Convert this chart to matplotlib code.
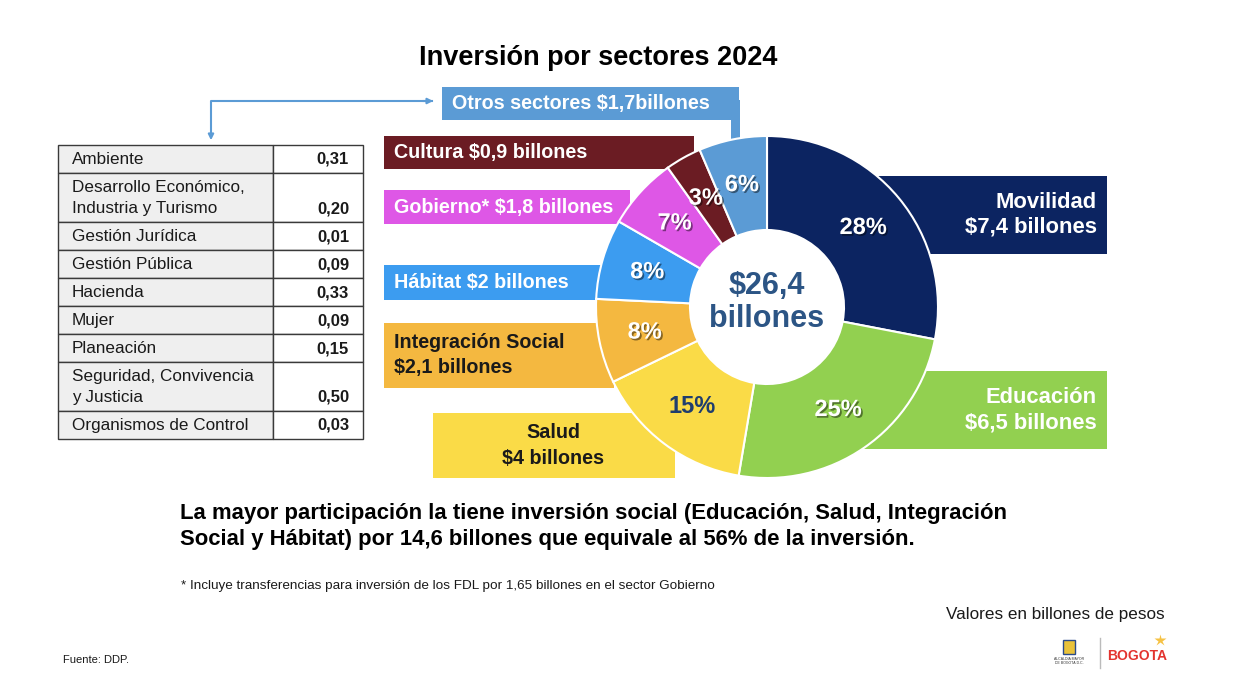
import matplotlib
matplotlib.use("Agg")
import matplotlib.pyplot as plt
import matplotlib.patheffects as pe
from matplotlib.patches import Rectangle, FancyArrowPatch

plt.rcParams["font.family"] = ["Liberation Sans", "DejaVu Sans"]

# ---- data ------------------------------------------------------------------
sectores = ["Movilidad", "Educación", "Salud", "Integración Social", "Hábitat",
            "Gobierno*", "Cultura", "Otros sectores"]
valores = [7.4, 6.5, 4.0, 2.1, 2.0, 1.8, 0.9, 1.7]   # billones de pesos
etiquetas = [["Movilidad", "$7,4 billones"],
             ["Educación", "$6,5 billones"],
             ["Salud", "$4 billones"],
             ["Integración Social", "$2,1 billones"],
             ["Hábitat $2 billones"],
             ["Gobierno* $1,8 billones"],
             ["Cultura $0,9 billones"],
             ["Otros sectores $1,7billones"]]
total_txt = ["$26,4", "billones"]

otros_nombres = ["Ambiente", "Desarrollo Económico,\nIndustria y Turismo",
                 "Gestión Jurídica", "Gestión Pública", "Hacienda", "Mujer",
                 "Planeación", "Seguridad, Convivencia\ny Justicia",
                 "Organismos de Control"]
otros_valores = [0.31, 0.20, 0.01, 0.09, 0.33, 0.09, 0.15, 0.50, 0.03]

# ---- style -----------------------------------------------------------------
colores = ["#0c2461", "#92d050", "#fadb47", "#f4b840", "#3c9cf0",
           "#de57e6", "#6b1c23", "#5b9bd5"]
txt_col = ["white", "white", "#1a1a1a", "#1a1a1a", "white", "white", "white", "white"]
# label boxes: x, y, w, h, text anchor x, alignment, font size
cajas = [(878, 176, 229, 78, 1097, "right", 15.8),
         (862, 371, 245, 78, 1097, "right", 15.8),
         (433, 413, 242, 65, 553, "center", 14.2),
         (384, 323, 230, 65, 394, "left", 14.2),
         (384, 265, 226, 35, 394, "left", 14.2),
         (384, 190, 246, 34, 394, "left", 14.2),
         (384, 136, 310, 33, 394, "left", 14.2),
         (442, 87, 297, 33, 452, "left", 14.2)]
NAVY = "#1f3d6e"
W, H = 1236, 698
CX, CY, R, R_IN = 767, 307, 171, 77

fig = plt.figure(figsize=(W / 100, H / 100), dpi=100)
ax = fig.add_axes([0, 0, 1, 1])

# ---- label boxes (behind the donut) ---------------------------------------
for (x, y, w, h, tx, al, fs), col, tc, lines in zip(cajas, colores, txt_col, etiquetas):
    ax.add_patch(Rectangle((x, y), w, h, fc=col, ec="none", zorder=1))
    n = len(lines)
    for i, line in enumerate(lines):
        yy = y + h / 2 + (i - (n - 1) / 2) * 25
        ax.text(tx, yy, line, ha=al, va="center", fontsize=fs,
                weight="bold", color=tc, zorder=2)
# connector strip from "Otros" box to its slice
ax.add_patch(Rectangle((731, 100), 9, 100, fc=colores[7], ec="none", zorder=1))

# ---- donut -----------------------------------------------------------------
wedges, _, autotexts = ax.pie(
    valores, colors=colores, radius=R, center=(CX, CY), startangle=-90,
    counterclock=True, autopct="%.0f%%", pctdistance=0.73, frame=True,
    wedgeprops=dict(width=R - R_IN, edgecolor="white", linewidth=1.5, zorder=3),
    textprops=dict(fontsize=17, weight="bold", color="white", zorder=5))
shadow = [pe.SimplePatchShadow(offset=(1.2, -1.2), shadow_rgbFace="black", alpha=0.45),
          pe.Normal()]
for i, t in enumerate(autotexts):
    if i == 2:
        t.set_color(NAVY)
    else:
        t.set_path_effects(shadow)

ax.text(CX, CY - 21, total_txt[0], ha="center", va="center", fontsize=22,
        weight="bold", color="#2c5585", zorder=6)
ax.text(CX, CY + 12, total_txt[1], ha="center", va="center", fontsize=22,
        weight="bold", color="#2c5585", zorder=6)

# ---- "otros sectores" table ----------------------------------------------
TX0, TX1, TX2 = 58, 273, 363
y = 145
for nombre, v in zip(otros_nombres, otros_valores):
    lines = nombre.split("\n")
    h = 28 if len(lines) == 1 else 49
    ax.add_patch(Rectangle((TX0, y), TX1 - TX0, h, fc="#efefef", ec="#3a3a3a", lw=1, zorder=2))
    ax.add_patch(Rectangle((TX1, y), TX2 - TX1, h, fc="white", ec="#3a3a3a", lw=1, zorder=2))
    for i, line in enumerate(lines):
        ax.text(72, y + h - 13.5 - (len(lines) - 1 - i) * 21, line, ha="left",
                va="center", fontsize=12.3, color="#1a1a1a", zorder=3)
    ax.text(349, y + h - 13.5, f"{v:.2f}".replace(".", ","), ha="right", va="center",
            fontsize=12, weight="bold", color="#1a1a1a", zorder=3)
    y += h

# arrow from "Otros sectores" box to the table
ax.plot([432, 211, 211], [101, 101, 136], color="#5b9bd5", lw=1.5, zorder=2)
ax.add_patch(FancyArrowPatch((211, 130), (211, 143), arrowstyle="-|>",
             mutation_scale=8, color="#5b9bd5", lw=1.5, zorder=2))
ax.add_patch(FancyArrowPatch((420, 101), (436, 101), arrowstyle="-|>",
             mutation_scale=8, color="#5b9bd5", lw=1.5, zorder=2))

# ---- titles and notes ------------------------------------------------------
ax.text(598, 58, "Inversión por sectores 2024", ha="center", va="center",
        fontsize=19.5, weight="bold", color="black")
ax.text(180, 513, "La mayor participación la tiene inversión social (Educación, Salud, Integración",
        ha="left", va="center", fontsize=15.9, weight="bold", color="black")
ax.text(180, 539, "Social y Hábitat) por 14,6 billones que equivale al 56% de la inversión.",
        ha="left", va="center", fontsize=15.9, weight="bold", color="black")
ax.text(181, 586, "* Incluye transferencias para inversión de los FDL por 1,65 billones en el sector Gobierno",
        ha="left", va="center", fontsize=9.7, color="#1a1a1a")
ax.text(1165, 614, "Valores en billones de pesos", ha="right", va="center",
        fontsize=12.3, color="#1a1a1a")
ax.text(63, 660, "Fuente: DDP.", ha="left", va="center", fontsize=8, color="#1a1a1a")

# ---- logos (simplified) ----------------------------------------------------
ax.add_patch(Rectangle((1063, 640), 12, 14, fc="#e9c23a", ec="#2a4a8a", lw=1, zorder=2))
ax.text(1069, 661, "ALCALDÍA MAYOR\nDE BOGOTÁ D.C.", ha="center", va="center",
        fontsize=2.5, color="#333333")
ax.plot([1100, 1100], [638, 668], color="#bbbbbb", lw=1)
ax.text(1107, 656, "BOGOTA", ha="left", va="center", fontsize=10, weight="bold",
        color="#e3342f")
ax.plot([1160], [640], marker="*", markersize=9, color="#f6c244", mec="none")

ax.set_xlim(0, W)
ax.set_ylim(H, 0)
ax.axis("off")
fig.savefig("out.png", dpi=100, facecolor="white")
